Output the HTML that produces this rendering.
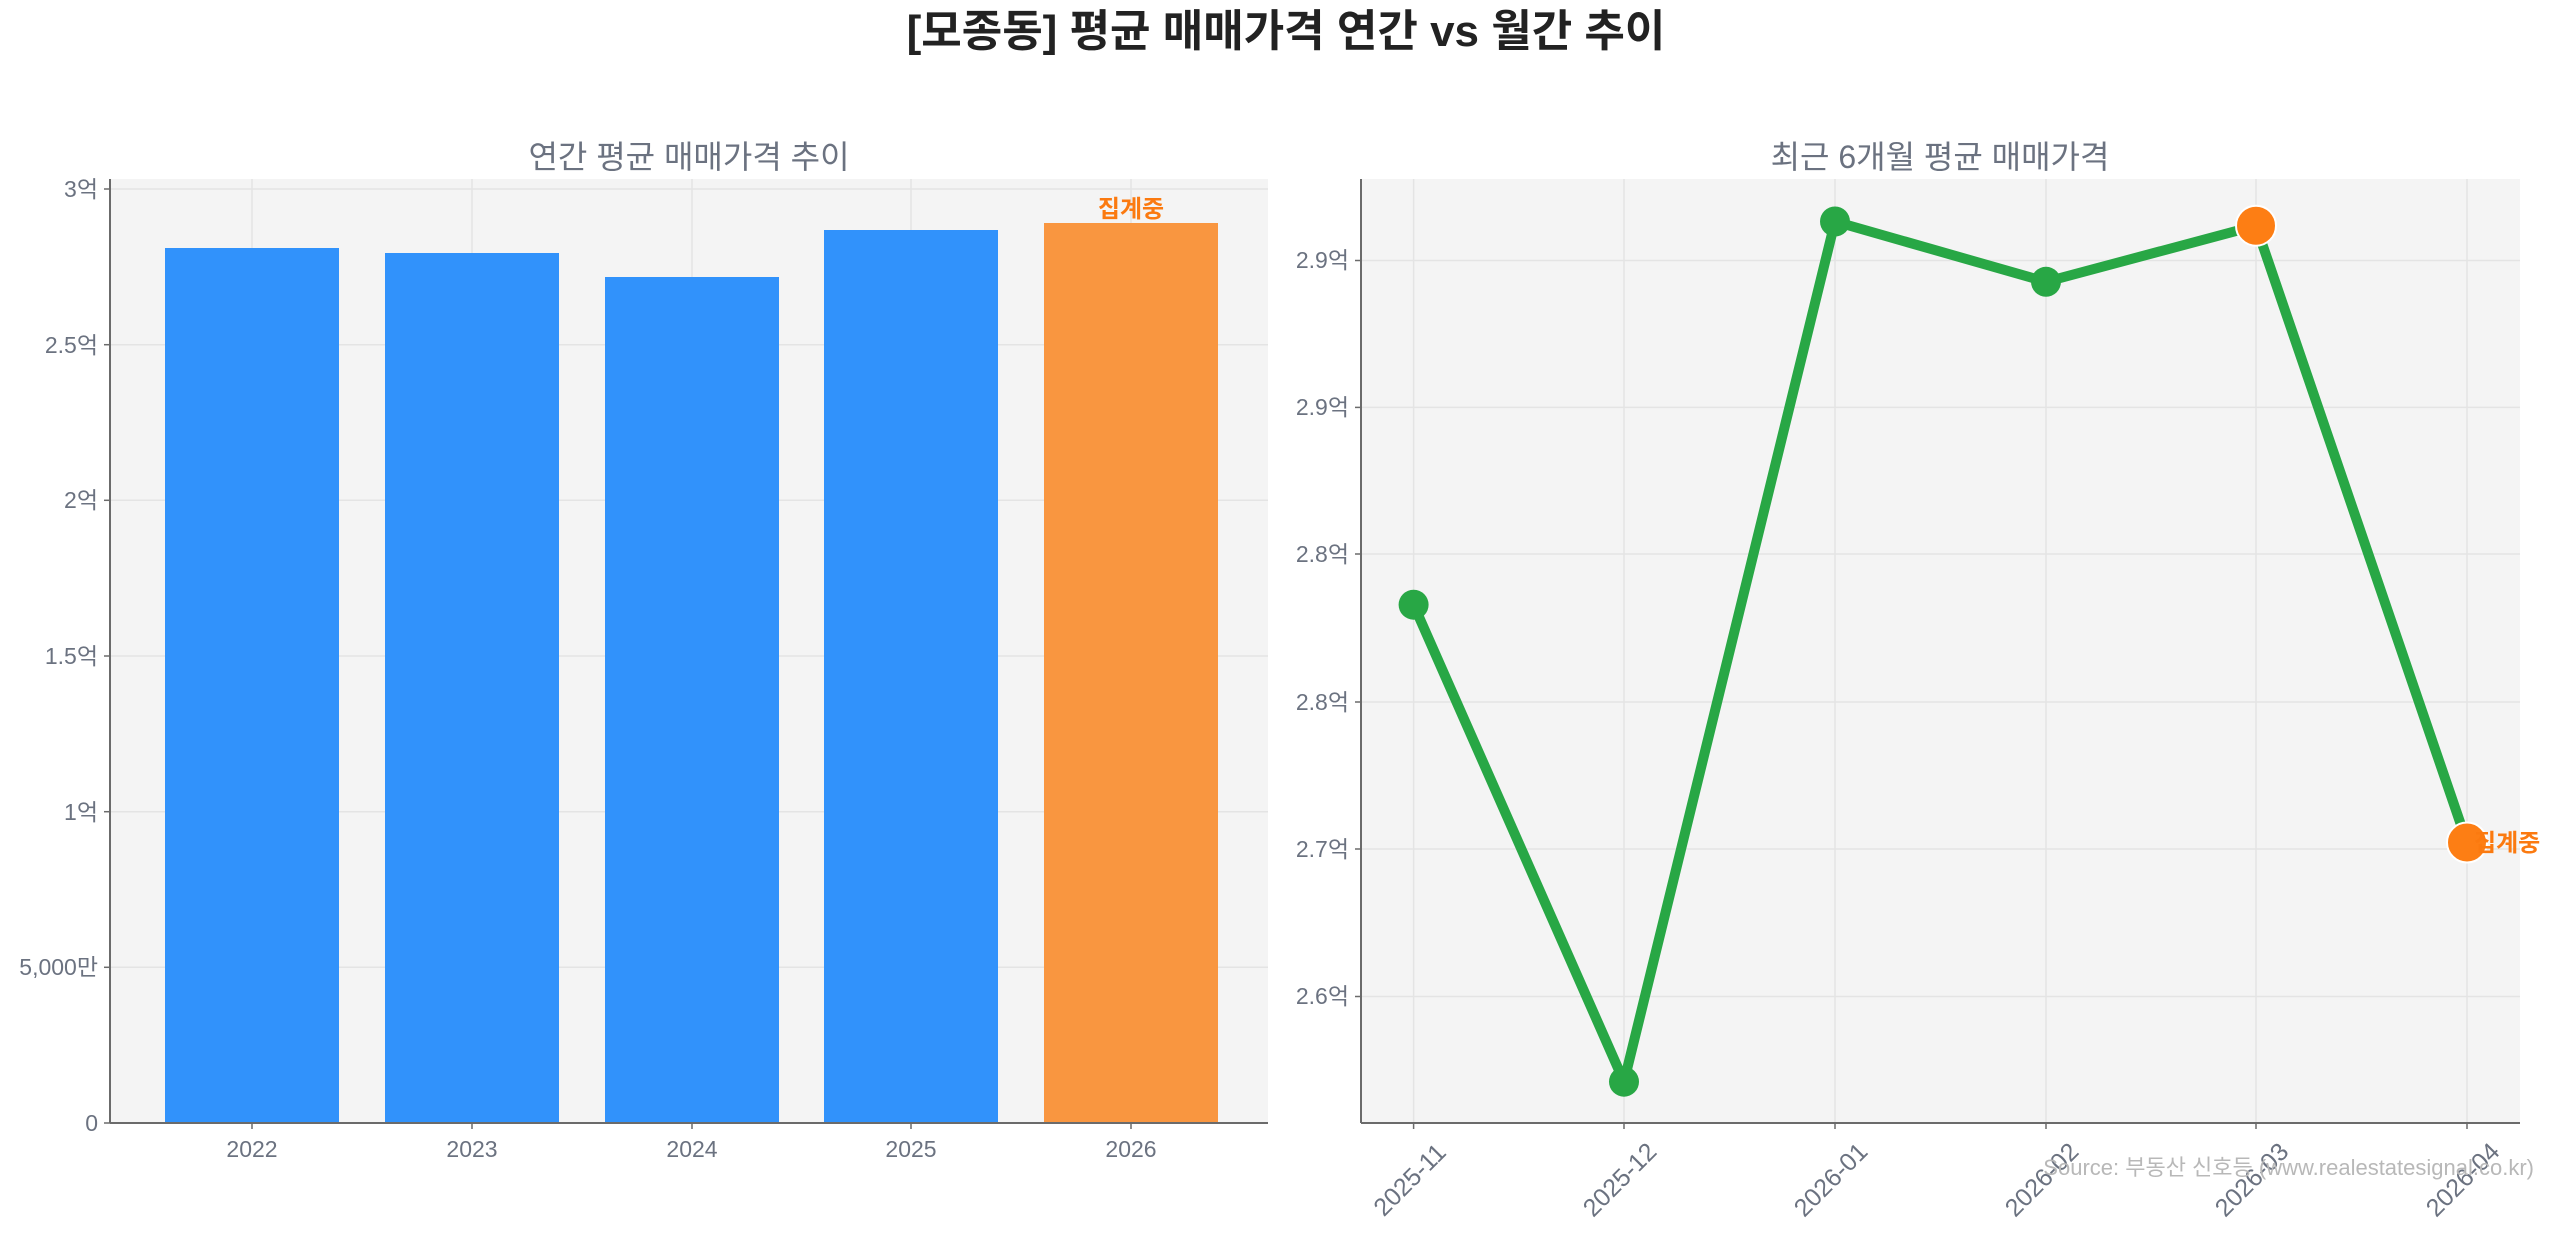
<!DOCTYPE html>
<html><head><meta charset="utf-8"><style>
html,body{margin:0;padding:0;background:#fff}
svg{display:block}
text{font-family:"Liberation Sans","Noto Sans CJK KR",sans-serif}
</style></head><body>
<svg width="2560" height="1234" viewBox="0 0 2560 1234" xmlns="http://www.w3.org/2000/svg">
<text x="1286" y="46" text-anchor="middle" font-size="44" font-weight="bold" fill="#222">[모종동] 평균 매매가격 연간 vs 월간 추이</text>

<!-- Left chart -->
<text x="689" y="168" text-anchor="middle" font-size="32" fill="#6b7280">연간 평균 매매가격 추이</text>
<rect x="110" y="179" width="1158" height="944" fill="#f4f4f4"/>
<g stroke="#e4e4e4" stroke-width="1.5">
<line x1="110" x2="1268" y1="189" y2="189"/>
<line x1="110" x2="1268" y1="344.7" y2="344.7"/>
<line x1="110" x2="1268" y1="500.3" y2="500.3"/>
<line x1="110" x2="1268" y1="656" y2="656"/>
<line x1="110" x2="1268" y1="811.7" y2="811.7"/>
<line x1="110" x2="1268" y1="967.3" y2="967.3"/>
<line x1="252" x2="252" y1="179" y2="1123"/>
<line x1="472" x2="472" y1="179" y2="1123"/>
<line x1="692" x2="692" y1="179" y2="1123"/>
<line x1="911" x2="911" y1="179" y2="1123"/>
<line x1="1131" x2="1131" y1="179" y2="1123"/>
</g>
<rect x="165" y="248" width="174" height="875" fill="#3192fb"/>
<rect x="385" y="253" width="174" height="870" fill="#3192fb"/>
<rect x="605" y="277" width="174" height="846" fill="#3192fb"/>
<rect x="824" y="230" width="174" height="893" fill="#3192fb"/>
<rect x="1044" y="223" width="174" height="900" fill="#f99640"/>
<text x="1131" y="217" text-anchor="middle" font-size="24" font-weight="bold" fill="#fb7a10">집계중</text>
<line x1="110" x2="110" y1="179" y2="1123" stroke="#6b6b6b" stroke-width="2"/>
<line x1="110" x2="1268" y1="1123" y2="1123" stroke="#6b6b6b" stroke-width="2"/>
<g font-size="23" fill="#6b7280" text-anchor="end">
<text x="98" y="197">3억</text>
<text x="98" y="353">2.5억</text>
<text x="98" y="508">2억</text>
<text x="98" y="664">1.5억</text>
<text x="98" y="820">1억</text>
<text x="98" y="975">5,000만</text>
<text x="98" y="1131">0</text>
</g>
<g stroke="#6b6b6b" stroke-width="1.5">
<line x1="104" x2="110" y1="189" y2="189"/><line x1="104" x2="110" y1="344.7" y2="344.7"/><line x1="104" x2="110" y1="500.3" y2="500.3"/><line x1="104" x2="110" y1="656" y2="656"/><line x1="104" x2="110" y1="811.7" y2="811.7"/><line x1="104" x2="110" y1="967.3" y2="967.3"/><line x1="104" x2="110" y1="1123" y2="1123"/>
<line x1="252" x2="252" y1="1123" y2="1129"/><line x1="472" x2="472" y1="1123" y2="1129"/><line x1="692" x2="692" y1="1123" y2="1129"/><line x1="911" x2="911" y1="1123" y2="1129"/><line x1="1131" x2="1131" y1="1123" y2="1129"/>
</g>
<g font-size="23" fill="#6b7280" text-anchor="middle">
<text x="252" y="1157">2022</text><text x="472" y="1157">2023</text><text x="692" y="1157">2024</text><text x="911" y="1157">2025</text><text x="1131" y="1157">2026</text>
</g>

<!-- Right chart -->
<text x="1940" y="168" text-anchor="middle" font-size="32" fill="#6b7280">최근 6개월 평균 매매가격</text>
<rect x="1361" y="179" width="1159" height="944" fill="#f4f4f4"/>
<g stroke="#e4e4e4" stroke-width="1.5">
<line x1="1361" x2="2520" y1="260.5" y2="260.5"/>
<line x1="1361" x2="2520" y1="407.4" y2="407.4"/>
<line x1="1361" x2="2520" y1="554" y2="554"/>
<line x1="1361" x2="2520" y1="702" y2="702"/>
<line x1="1361" x2="2520" y1="849" y2="849"/>
<line x1="1361" x2="2520" y1="996.5" y2="996.5"/>
<line x1="1413.6" x2="1413.6" y1="179" y2="1123"/>
<line x1="1624" x2="1624" y1="179" y2="1123"/>
<line x1="1835" x2="1835" y1="179" y2="1123"/>
<line x1="2046" x2="2046" y1="179" y2="1123"/>
<line x1="2256" x2="2256" y1="179" y2="1123"/>
<line x1="2467" x2="2467" y1="179" y2="1123"/>
</g>
<polyline points="1413.6,604.7 1624,1081.7 1835,221.5 2046,281.8 2256,225.7 2467,842.5" fill="none" stroke="#28a745" stroke-width="10" stroke-linejoin="round"/>
<g fill="#28a745">
<circle cx="1413.6" cy="604.7" r="15"/><circle cx="1624" cy="1081.7" r="15"/><circle cx="1835" cy="221.5" r="15"/><circle cx="2046" cy="281.8" r="15"/>
</g>
<g fill="#fd7e14" stroke="#fff" stroke-width="2">
<circle cx="2256" cy="225.7" r="20"/><circle cx="2467" cy="842.5" r="20"/>
</g>
<text x="2474" y="851" font-size="24" font-weight="bold" fill="#fb7a10">집계중</text>
<line x1="1361" x2="1361" y1="179" y2="1123" stroke="#6b6b6b" stroke-width="2"/>
<line x1="1361" x2="2520" y1="1123" y2="1123" stroke="#6b6b6b" stroke-width="2"/>
<g font-size="23" fill="#6b7280" text-anchor="end">
<text x="1349" y="268">2.9억</text>
<text x="1349" y="415">2.9억</text>
<text x="1349" y="562">2.8억</text>
<text x="1349" y="710">2.8억</text>
<text x="1349" y="857">2.7억</text>
<text x="1349" y="1004">2.6억</text>
</g>
<g stroke="#6b6b6b" stroke-width="1.5">
<line x1="1355" x2="1361" y1="260.5" y2="260.5"/><line x1="1355" x2="1361" y1="407.4" y2="407.4"/><line x1="1355" x2="1361" y1="554" y2="554"/><line x1="1355" x2="1361" y1="702" y2="702"/><line x1="1355" x2="1361" y1="849" y2="849"/><line x1="1355" x2="1361" y1="996.5" y2="996.5"/>
<line x1="1413.6" x2="1413.6" y1="1123" y2="1129"/><line x1="1624" x2="1624" y1="1123" y2="1129"/><line x1="1835" x2="1835" y1="1123" y2="1129"/><line x1="2046" x2="2046" y1="1123" y2="1129"/><line x1="2256" x2="2256" y1="1123" y2="1129"/><line x1="2467" x2="2467" y1="1123" y2="1129"/>
</g>
<g font-size="25" fill="#6b7280" text-anchor="middle">
<text transform="translate(1410,1180) rotate(-45)" dy="8">2025-11</text>
<text transform="translate(1620,1180) rotate(-45)" dy="8">2025-12</text>
<text transform="translate(1831,1180) rotate(-45)" dy="8">2026-01</text>
<text transform="translate(2042,1180) rotate(-45)" dy="8">2026-02</text>
<text transform="translate(2252,1180) rotate(-45)" dy="8">2026-03</text>
<text transform="translate(2463,1180) rotate(-45)" dy="8">2026-04</text>
</g>
<text x="2534" y="1175" text-anchor="end" font-size="22" fill="#b8b8b8">Source: 부동산 신호등 (www.realestatesignal.co.kr)</text>
</svg>
</body></html>
